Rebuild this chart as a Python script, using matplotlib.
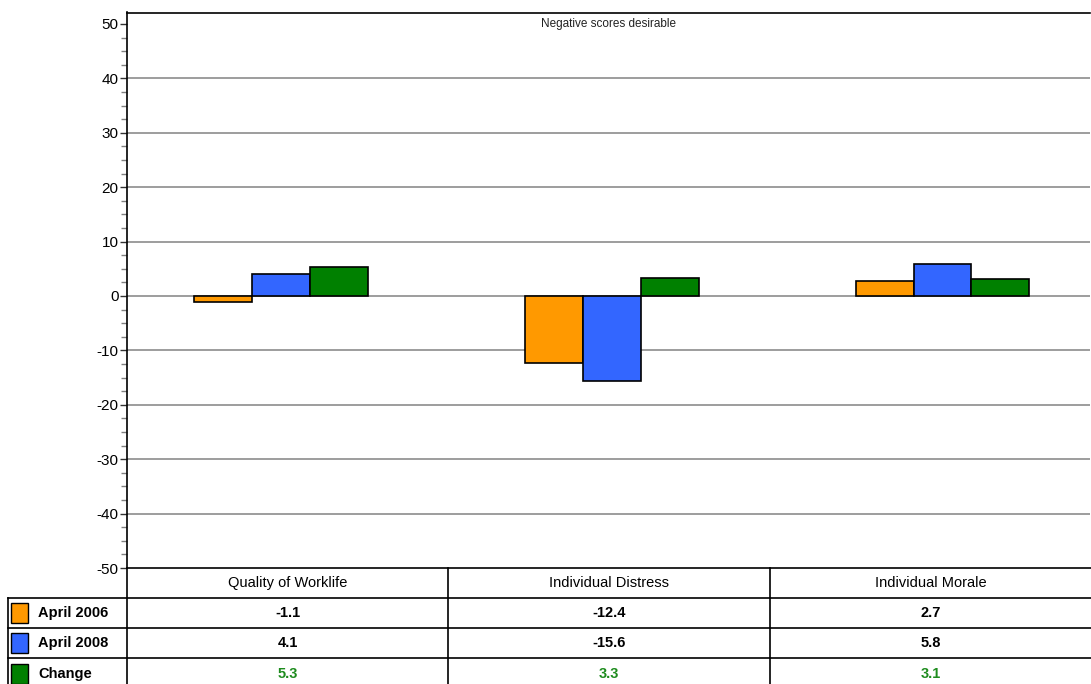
import matplotlib
matplotlib.use("Agg")
import matplotlib.pyplot as plt
from matplotlib.patches import Rectangle
from matplotlib.ticker import MultipleLocator
import numpy as np

plt.rcParams['font.family'] = ['Liberation Sans', 'DejaVu Sans']
plt.rcParams['axes.unicode_minus'] = False

categories = ["Quality of Worklife", "Individual Distress", "Individual Morale"]
series_names = ["April 2006", "April 2008", "Change"]
april_2006 = [-1.1, -12.4, 2.7]
april_2008 = [4.1, -15.6, 5.8]
change = [5.3, 3.3, 3.1]
colors = ["#FF9900", "#3366FF", "#008000"]
note = "Negative scores desirable"

W, H = 1091, 684
fig = plt.figure(figsize=(W / 100, H / 100), dpi=100)

# plot area in pixels
left, right, top, bottom = 127, 1090, 12.5, 568
ax = fig.add_axes([left / W, 1 - bottom / H, (right - left) / W, (bottom - top) / H])

x = np.arange(len(categories))
w = 0.175
series = [april_2006, april_2008, change]
for i, (vals, c) in enumerate(zip(series, colors)):
    ax.bar(x + (i - 1) * w, vals, width=w, color=c, edgecolor="black",
           linewidth=1.2, zorder=3)

ax.set_xlim(-0.466, 2.446)
ax.set_ylim(-50, 52.1)
ax.set_yticks(np.arange(-50, 51, 10))
ax.yaxis.set_minor_locator(MultipleLocator(2.5))
ax.set_xticks([])
for yv in np.arange(-40, 41, 10):
    ax.axhline(yv, color="#8c8c8c", linewidth=1.2, zorder=1)
ax.tick_params(axis="y", which="major", length=5, width=1, color="#333333",
               labelsize=11, pad=1)
ax.tick_params(axis="y", which="minor", length=4, width=1, color="#808080")
for s in ["right", "bottom"]:
    ax.spines[s].set_visible(False)
ax.spines["left"].set_linewidth(1.2)
ax.spines["top"].set_linewidth(1.2)

ax.text(0.5, 0.99, note, transform=ax.transAxes, ha="center", va="top",
        fontsize=8.5, color="#222222")

# data table below the chart, equal columns across the plot width
def fy(py):
    return 1 - py / H
def fx(px):
    return px / W

ncol = len(categories)
col_edges = [left + k * (right + 1 - left) / ncol for k in range(ncol + 1)]
col_centers = [(col_edges[k] + col_edges[k + 1]) / 2 for k in range(ncol)]

row_edges = [568, 598, 628, 658]
lab_left = 8
lw = 1.2
for k, py in enumerate(row_edges):
    x0 = left if k == 0 else lab_left
    fig.add_artist(plt.Line2D([fx(x0), fx(right + 1)], [fy(py), fy(py)],
                              color="black", linewidth=lw))
fig.add_artist(plt.Line2D([fx(left), fx(left)], [fy(bottom), 0], color="black", linewidth=lw))
fig.add_artist(plt.Line2D([fx(lab_left), fx(lab_left)], [fy(598), 0], color="black", linewidth=lw))
for b in col_edges[1:-1]:
    fig.add_artist(plt.Line2D([fx(b), fx(b)], [fy(bottom), 0], color="black", linewidth=lw))

# header row
for i, cat in enumerate(categories):
    fig.text(fx(col_centers[i]), fy(583), cat, ha="center", va="center",
             fontsize=10.5)

# data rows
row_centers = [613, 643, 674]
for r, (name, vals, c) in enumerate(zip(series_names, series, colors)):
    cy = row_centers[r]
    fig.add_artist(Rectangle((fx(11), fy(cy + 10)), 17 / W, 20 / H,
                             facecolor=c, edgecolor="black", linewidth=1,
                             transform=fig.transFigure))
    fig.text(fx(38), fy(cy), name, ha="left", va="center", fontsize=10.5,
             fontweight="bold")
    tcol = "#1E8C1E" if r == 2 else "black"
    for i, v in enumerate(vals):
        fig.text(fx(col_centers[i]), fy(cy), f"{v:.1f}", ha="center",
                 va="center", fontsize=10.5, fontweight="bold", color=tcol)

fig.savefig("out.png", dpi=100)
